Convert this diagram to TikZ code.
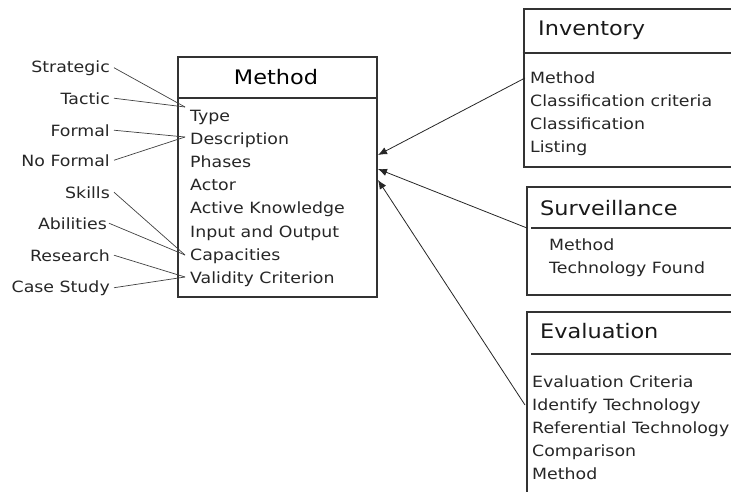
\documentclass[tikz,border=0pt]{standalone}
\usepackage{fontspec}
\setmainfont[FakeStretch=1.12]{DejaVu Sans}
\usetikzlibrary{arrows.meta}
\begin{document}
\begin{tikzpicture}[x=1pt,y=-1pt,
  boxline/.style={draw=black!80, line width=1.2pt},
  item/.style={anchor=base west, inner sep=0pt, font=\fontsize{15.5}{18}\selectfont, text=black!85},
  lab/.style={anchor=base east, inner sep=2pt, font=\fontsize{15.5}{18}\selectfont, text=black!85},
  ttl/.style={anchor=base west, inner sep=0pt, font=\fontsize{20}{24}\selectfont, text=black!90},
  link/.style={draw=black!75, line width=0.7pt},
  arr/.style={draw=black!85, line width=0.8pt, -{Latex[length=9pt,width=7.5pt]}}
]
\useasboundingbox (0,0) rectangle (731,491);
\begin{scope}
\clip (0,0) rectangle (731,491);
% Method box
\draw[boxline] (178,57) rectangle (377,297);
\draw[boxline] (178,98) -- (377,98);
\node[anchor=base, inner sep=0pt, font=\fontsize{20}{24}\selectfont] (mt) at (276,84) {Method};
\node[item] (i1) at (190,121) {Type};
\node[item] (i2) at (190,144.2) {Description};
\node[item] (i3) at (190,167.4) {Phases};
\node[item] (i4) at (190,190.6) {Actor};
\node[item] (i5) at (190,213.8) {Active Knowledge};
\node[item] (i6) at (190,237) {Input and Output};
\node[item] (i7) at (190,260.2) {Capacities};
\node[item] (i8) at (190,283.4) {Validity Criterion};
% left labels
\node[lab] (l1) at (112,72) {Strategic};
\node[lab] (l2) at (112,104) {Tactic};
\node[lab] (l3) at (112,136) {Formal};
\node[lab] (l4) at (112,166) {No Formal};
\node[lab] (l5) at (112,198) {Skills};
\node[lab] (l6) at (109,229) {Abilities};
\node[lab] (l7) at (112,261) {Research};
\node[lab] (l8) at (112,292) {Case Study};
\coordinate (m1) at (185,107);
\coordinate (m2) at (185,137);
\coordinate (m3) at (185,255);
\coordinate (m4) at (185,277);
\draw[link] ([xshift=2pt]l1.east) -- (m1);
\draw[link] ([xshift=2pt]l2.east) -- (m1);
\draw[link] ([xshift=2pt]l3.east) -- (m2);
\draw[link] ([xshift=2pt]l4.east) -- (m2);
\draw[link] ([xshift=2pt]l5.east) -- (m3);
\draw[link] (l6.east) -- (m3);
\draw[link] ([xshift=2pt]l7.east) -- (m4);
\draw[link] ([xshift=2pt]l8.east) -- (m4);
% Inventory
\draw[boxline] (740,9) -- (524,9) -- (524,167) -- (740,167);
\draw[boxline] (522.5,53) -- (740,53);
\node[ttl] (t1) at (538,35) {Inventory};
\node[item] (v1) at (530,83) {Method};
\node[item] (v2) at (530,106) {Classification criteria};
\node[item] (v3) at (530,129) {Classification};
\node[item] (v4) at (530,152) {Listing};
% Surveillance
\draw[boxline] (740,187) -- (527,187) -- (527,295) -- (740,295);
\draw[boxline] (531,228) -- (740,228);
\node[ttl] (t2) at (540,215) {Surveillance};
\node[item] (s1) at (549,250) {Method};
\node[item] (s2) at (549,273) {Technology Found};
% Evaluation
\draw[boxline] (740,312) -- (527,312) -- (527,500);
\draw[boxline] (531,354) -- (740,354);
\node[ttl] (t3) at (540,338) {Evaluation};
\node[item] (e1) at (532,387) {Evaluation Criteria};
\node[item] (e2) at (532,410) {Identify Technology};
\node[item] (e3) at (532,433) {Referential Technology};
\node[item] (e4) at (532,456) {Comparison};
\node[item] (e5) at (532,479) {Method};
% arrows
\coordinate (p1) at (525,78);
\coordinate (p2) at (527,228);
\coordinate (p3) at (525,405);
\coordinate (q1) at (378,155);
\coordinate (q2) at (378,169);
\coordinate (q3) at (378,180);
\draw[arr] (p1) -- (q1);
\draw[arr] (p2) -- (q2);
\draw[arr] (p3) -- (q3);
\end{scope}
\end{tikzpicture}
\end{document}
